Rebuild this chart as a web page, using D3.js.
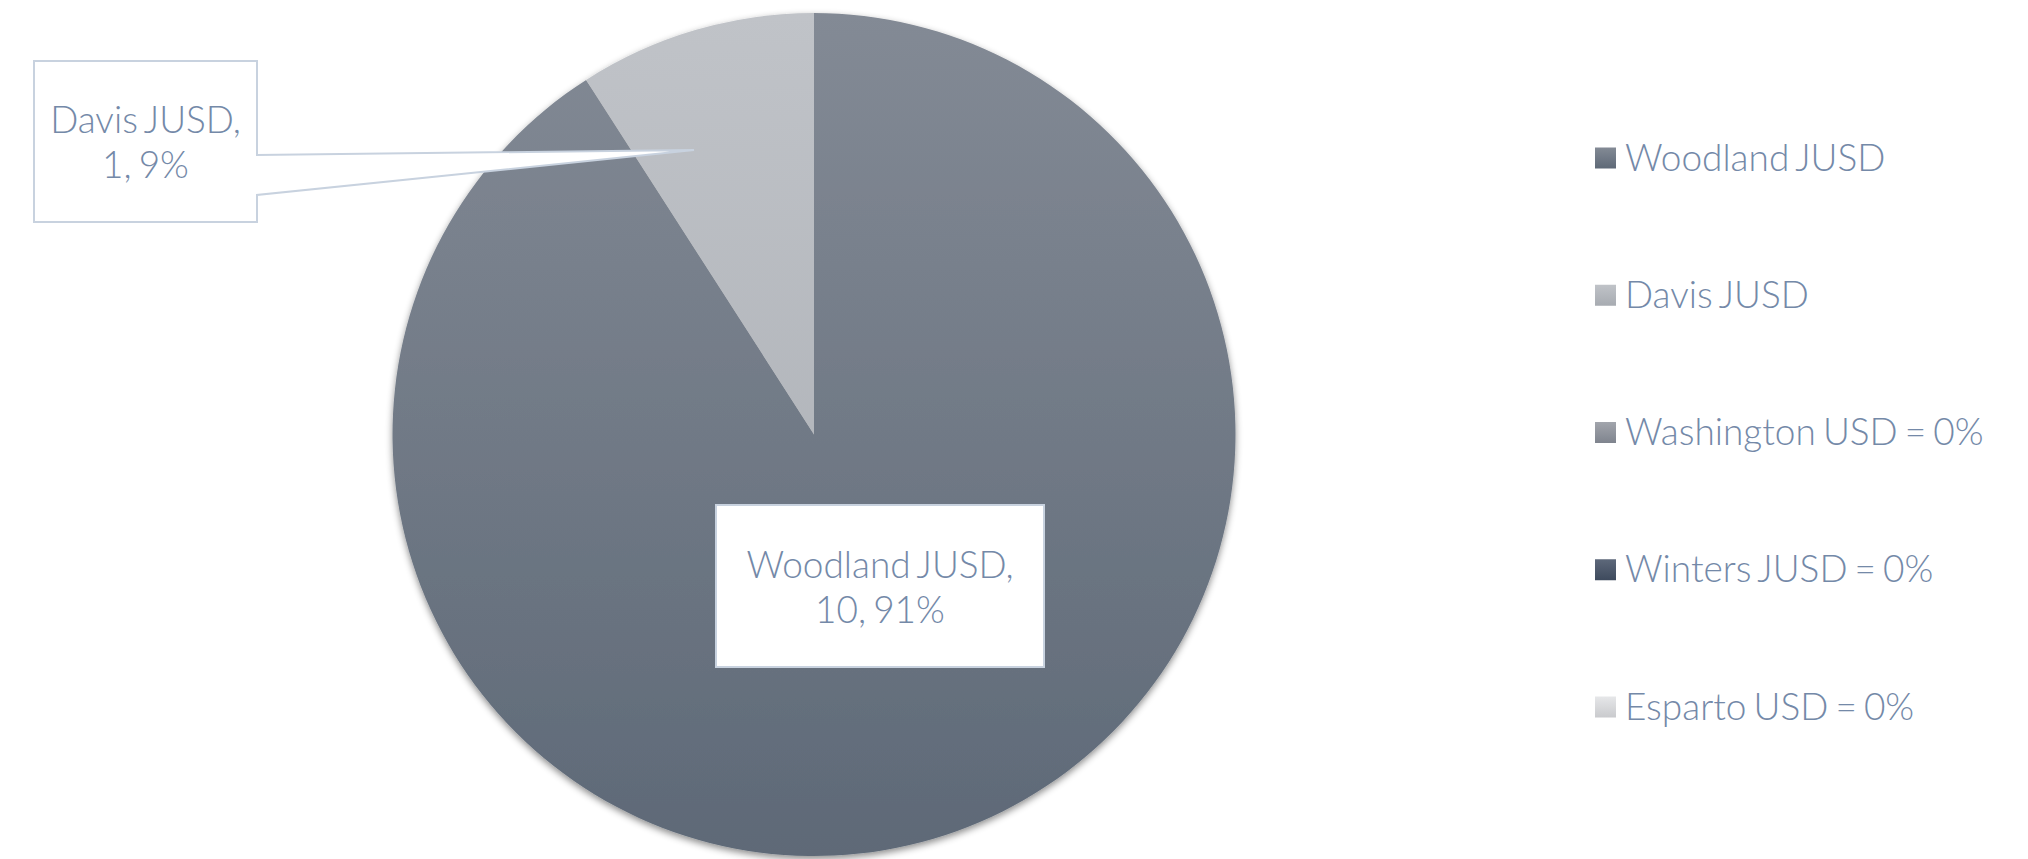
<!DOCTYPE html>
<html><head><meta charset="utf-8">
<script src="https://cdn.jsdelivr.net/npm/d3@7"></script>
<style>
html,body{margin:0;padding:0;background:#fff;}
svg{display:block;}
text{font-family:Lato,"Open Sans",sans-serif;font-weight:300;fill:#7489a8;word-spacing:-3px;}
</style></head>
<body>
<script>
const categories = ["Woodland JUSD", "Davis JUSD", "Washington USD", "Winters JUSD", "Esparto USD"];
const values = [10, 1, 0, 0, 0];
const percentLabels = ["91%", "9%", "0%", "0%", "0%"];
const legendLabels = ["Woodland JUSD", "Davis JUSD", "Washington USD = 0%", "Winters JUSD = 0%", "Esparto USD = 0%"];
const gradTop = ["#838a95", "#c0c3c8", "#a2a5ac", "#5d687a", "#e6e7e9"];
const gradBottom = ["#5e6977", "#a7abb1", "#7f848e", "#3e4a5d", "#c9cacd"];

const W = 2028, H = 859;
const cx = 814, cy = 434.5, R = 421.5;

const svg = d3.select("body").append("svg").attr("width", W).attr("height", H);
const defs = svg.append("defs");

categories.forEach((c, i) => {
  const g = defs.append("linearGradient").attr("id", "g" + i)
    .attr("x1", 0).attr("y1", 0).attr("x2", 0).attr("y2", 1);
  g.append("stop").attr("offset", "0%").attr("stop-color", gradTop[i]);
  g.append("stop").attr("offset", "100%").attr("stop-color", gradBottom[i]);
  const gp = defs.append("linearGradient").attr("id", "gp" + i)
    .attr("gradientUnits", "userSpaceOnUse")
    .attr("x1", 0).attr("y1", -R).attr("x2", 0).attr("y2", R);
  gp.append("stop").attr("offset", "0%").attr("stop-color", gradTop[i]);
  gp.append("stop").attr("offset", "100%").attr("stop-color", gradBottom[i]);
});

const f = defs.append("filter").attr("id", "shadow")
  .attr("x", "-10%").attr("y", "-10%").attr("width", "120%").attr("height", "120%");
f.append("feDropShadow").attr("dx", 0).attr("dy", 3).attr("stdDeviation", 3.5)
  .attr("flood-color", "#000").attr("flood-opacity", 0.45);

const data = categories.map((c, i) => ({name: c, value: values[i], pct: percentLabels[i], i}));
const pie = d3.pie().value(d => d.value).sort(null);
const arc = d3.arc().innerRadius(0).outerRadius(R);
const arcs = pie(data);

const gPie = svg.append("g").attr("transform", `translate(${cx},${cy})`).attr("filter", "url(#shadow)");
gPie.selectAll("path").data(arcs.filter(a => a.value > 0)).join("path")
  .attr("d", arc)
  .attr("fill", d => `url(#gp${d.data.i})`);

// Data label callouts
const stroke = "#c8d2df";
const fs = 37;
// Woodland box
const wb = {x: 716, y: 505, w: 328, h: 162};
svg.append("rect").attr("x", wb.x).attr("y", wb.y).attr("width", wb.w).attr("height", wb.h)
  .attr("fill", "#fff").attr("stroke", stroke).attr("stroke-width", 2);
const t0 = svg.append("text").attr("text-anchor", "middle").attr("font-size", fs);
t0.append("tspan").attr("x", wb.x + wb.w / 2).attr("y", 578).text(data[0].name + ",");
t0.append("tspan").attr("x", wb.x + wb.w / 2).attr("y", 623).text(data[0].value + ", " + data[0].pct);

// Davis callout with pointer
const db = {x: 34, y: 61, w: 223, h: 161};
const tip = [694, 150];
const callout = d3.path();
callout.moveTo(db.x, db.y);
callout.lineTo(db.x + db.w, db.y);
callout.lineTo(db.x + db.w, 155);
callout.lineTo(tip[0], tip[1]);
callout.lineTo(db.x + db.w, 195);
callout.lineTo(db.x + db.w, db.y + db.h);
callout.lineTo(db.x, db.y + db.h);
callout.closePath();
svg.append("path").attr("d", callout.toString()).attr("fill", "#fff")
  .attr("stroke", stroke).attr("stroke-width", 2).attr("stroke-linejoin", "miter");
const t1 = svg.append("text").attr("text-anchor", "middle").attr("font-size", fs);
t1.append("tspan").attr("x", db.x + db.w / 2).attr("y", 133).text(data[1].name + ",");
t1.append("tspan").attr("x", db.x + db.w / 2).attr("y", 178).text(data[1].value + ", " + data[1].pct);

// Legend
const ly = d3.scalePoint().domain(categories).range([158, 707]);
const lg = svg.append("g");
const items = lg.selectAll("g").data(data).join("g")
  .attr("transform", d => `translate(1595,${ly(d.name)})`);
items.append("rect").attr("x", 0).attr("y", -10.5).attr("width", 21).attr("height", 21)
  .attr("fill", d => `url(#g${d.i})`);
items.append("text").attr("x", 30).attr("y", 12.5).attr("font-size", 37)
  .text((d, i) => legendLabels[i]);
</script>
</body></html>
